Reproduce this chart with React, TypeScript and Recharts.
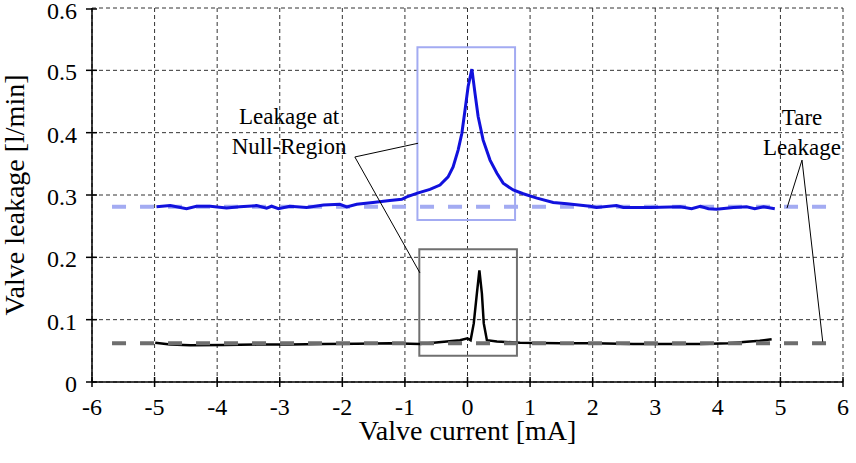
import React from "react";
import {
  LineChart,
  Line,
  XAxis,
  YAxis,
  CartesianGrid,
  ReferenceLine,
  ReferenceArea,
  ReferenceDot,
} from "recharts";

const FONT = "serif";

// tick labels
const xTicks = [-6, -5, -4, -3, -2, -1, 0, 1, 2, 3, 4, 5, 6];
const yTicks = [0, 0.1, 0.2, 0.3, 0.4, 0.5, 0.6];

// leakage with blue (upper) valve
const blueX = [
  -4.97, -4.75, -4.49, -4.33, -4.11, -3.85, -3.64, -3.37, -3.21, -3.13, -3.02, -2.84, -2.57, -2.3,
  -2.04, -1.93, -1.77, -1.51, -1.24, -1.05, -0.97, -0.8, -0.6, -0.44, -0.31, -0.23, -0.15, -0.09,
  -0.04, 0.01, 0.07, 0.12, 0.17, 0.25, 0.36, 0.47, 0.57, 0.73, 0.89, 1.11, 1.37, 1.59, 1.96, 2.06,
  2.38, 2.49, 2.92, 3.4, 3.58, 3.72, 3.85, 3.98, 4.25, 4.46, 4.59, 4.73, 4.91,
];
const blueY = [
  0.281, 0.283, 0.278, 0.282, 0.282, 0.279, 0.281, 0.283, 0.279, 0.282, 0.278, 0.282, 0.28, 0.284,
  0.285, 0.281, 0.285, 0.288, 0.291, 0.293, 0.297, 0.303, 0.309, 0.316, 0.329, 0.345, 0.372, 0.399,
  0.436, 0.474, 0.502, 0.463, 0.426, 0.388, 0.356, 0.335, 0.319, 0.308, 0.302, 0.295, 0.288, 0.286,
  0.282, 0.28, 0.283, 0.28, 0.28, 0.281, 0.278, 0.282, 0.278, 0.277, 0.28, 0.281, 0.278, 0.281,
  0.278,
];

// leakage with black (lower) valve
const blackX = [
  -4.99, -4.75, -4.43, -3.9, -3.37, -2.84, -2.3, -1.77, -1.24, -0.76, -0.33, -0.12, 0.0, 0.05, 0.1,
  0.15, 0.19, 0.23, 0.26, 0.31, 0.47, 0.84, 1.48, 2.0, 2.65, 3.2, 3.72, 4.19, 4.46, 4.67, 4.86,
];
const blackY = [
  0.063, 0.06, 0.059, 0.0594, 0.06, 0.06, 0.061, 0.0615, 0.062, 0.061, 0.065, 0.067, 0.07, 0.067,
  0.094, 0.142, 0.179, 0.142, 0.094, 0.067, 0.065, 0.063, 0.062, 0.062, 0.061, 0.061, 0.061, 0.062,
  0.0647, 0.066, 0.0685,
];

// tare leakage levels and extent
const tareRange = [-5.68, 5.74];
const tareBlue = 0.281;
const tareBlack = 0.062;

// null-region boxes [x1, x2, y1, y2]
const blueBox = [-0.8, 0.76, 0.26, 0.537];
const blackBox = [-0.77, 0.79, 0.042, 0.213];

// annotation leader lines: apex, then ends
const nullApex = { x: -1.8, y: 0.361 };
const nullEnds = [
  { x: -0.79, y: 0.383 },
  { x: -0.76, y: 0.175 },
];
const tareApex = { x: 5.345, y: 0.356 };
const tareEnds = [
  { x: 5.105, y: 0.279 },
  { x: 5.676, y: 0.0647 },
];

const nullLabel = ["Leakage at", "Null-Region"];
const nullLabelAt = { x: -2.85, y: 0.414 };
const tareLabel = ["Tare", "Leakage"];
const tareLabelAt = { x: 5.345, y: 0.412 };

const blueData = blueX.map((x, i) => ({ x, y: blueY[i] }));
const blackData = blackX.map((x, i) => ({ x, y: blackY[i] }));

function renderXTick(props: any) {
  const { x, y, payload } = props;
  return (
    <g key={`xt${payload.value}`}>
      <line x1={x} x2={x} y1={y - 11} y2={y - 1} stroke="#000" strokeWidth={1.5} />
      <text x={x} y={y + 27} textAnchor="middle" fontSize={24} fontFamily={FONT} fill="#000">
        {payload.value}
      </text>
    </g>
  );
}

function renderYTick(props: any) {
  const { x, y, payload } = props;
  return (
    <g key={`yt${payload.value}`}>
      <line x1={x} x2={x + 11} y1={y} y2={y} stroke="#000" strokeWidth={1.5} />
      <text x={x - 9} y={y + 10} textAnchor="end" fontSize={24} fontFamily={FONT} fill="#000">
        {payload.value}
      </text>
    </g>
  );
}

const multiLine = (lines: string[]) => (props: any) => {
  const vb = props.viewBox || {};
  const cx = (vb.x ?? 0) + (vb.width ?? 0) / 2;
  const cy = (vb.y ?? 0) + (vb.height ?? 0) / 2;
  return (
    <text x={cx} y={cy} textAnchor="middle" fontSize={23} fontFamily={FONT} fill="#000">
      {lines.map((t, i) => (
        <tspan key={t} x={cx} dy={i === 0 ? 0 : 30}>
          {t}
        </tspan>
      ))}
    </text>
  );
};

function renderYLabel(p: any) {
  const vb = p.viewBox || {};
  const cy = (vb.y ?? 0) + (vb.height ?? 0) / 2;
  return (
    <text
      x={24}
      y={cy}
      transform={`rotate(-90, 24, ${cy})`}
      textAnchor="middle"
      fontSize={28}
      fontFamily={FONT}
      fill="#000"
    >
      Valve leakage [l/min]
    </text>
  );
}

export default function App() {
  return (
    <div style={{ position: "absolute", left: 0, top: 0, background: "#fff" }}>
      <LineChart width={856} height={463} margin={{ top: 8, right: 13, left: 0, bottom: 0 }}>
        <CartesianGrid stroke="#333" strokeDasharray="4 3" />
        <XAxis
          type="number"
          dataKey="x"
          domain={[-6, 6]}
          ticks={xTicks}
          height={81}
          tickSize={6}
          tickMargin={0}
          tickLine={false}
          tick={renderXTick}
          axisLine={{ stroke: "#000", strokeWidth: 1.5 }}
          label={{
            value: "Valve current [mA]",
            position: "insideBottom",
            offset: 23,
            fontSize: 28,
            fontFamily: FONT,
            fill: "#000",
          }}
        />
        <YAxis
          type="number"
          domain={[0, 0.6]}
          ticks={yTicks}
          width={92}
          tickSize={6}
          tickMargin={0}
          tickLine={false}
          tick={renderYTick}
          axisLine={{ stroke: "#000", strokeWidth: 1.5 }}
          label={{ content: renderYLabel }}
        />

        <ReferenceArea
          x1={blueBox[0]}
          x2={blueBox[1]}
          y1={blueBox[2]}
          y2={blueBox[3]}
          fill="none"
          stroke="#a3abf2"
          strokeWidth={2}
        />
        <ReferenceArea
          x1={blackBox[0]}
          x2={blackBox[1]}
          y1={blackBox[2]}
          y2={blackBox[3]}
          fill="none"
          stroke="#707070"
          strokeWidth={2}
        />

        <ReferenceLine
          segment={[
            { x: tareRange[0], y: tareBlue },
            { x: tareRange[1], y: tareBlue },
          ]}
          stroke="#a3abf2"
          strokeWidth={4}
          strokeDasharray="14 14"
        />

        <Line
          data={blueData}
          dataKey="y"
          type="linear"
          stroke="#1111dd"
          strokeWidth={3}
          dot={false}
          isAnimationActive={false}
        />
        <Line
          data={blackData}
          dataKey="y"
          type="linear"
          stroke="#000"
          strokeWidth={2.5}
          dot={false}
          isAnimationActive={false}
        />

        <ReferenceLine
          segment={[
            { x: tareRange[0], y: tareBlack },
            { x: tareRange[1], y: tareBlack },
          ]}
          stroke="#6e6e6e"
          strokeWidth={4}
          strokeDasharray="14 14"
        />

        {nullEnds.map((e, i) => (
          <ReferenceLine key={`n${i}`} segment={[nullApex, e]} stroke="#000" strokeWidth={1} />
        ))}
        {tareEnds.map((e, i) => (
          <ReferenceLine key={`t${i}`} segment={[tareApex, e]} stroke="#000" strokeWidth={1} />
        ))}

        <ReferenceDot
          x={nullLabelAt.x}
          y={nullLabelAt.y}
          r={1}
          fill="none"
          stroke="none"
          label={{ content: multiLine(nullLabel) }}
        />
        <ReferenceDot
          x={tareLabelAt.x}
          y={tareLabelAt.y}
          r={1}
          fill="none"
          stroke="none"
          label={{ content: multiLine(tareLabel) }}
        />
      </LineChart>
    </div>
  );
}
